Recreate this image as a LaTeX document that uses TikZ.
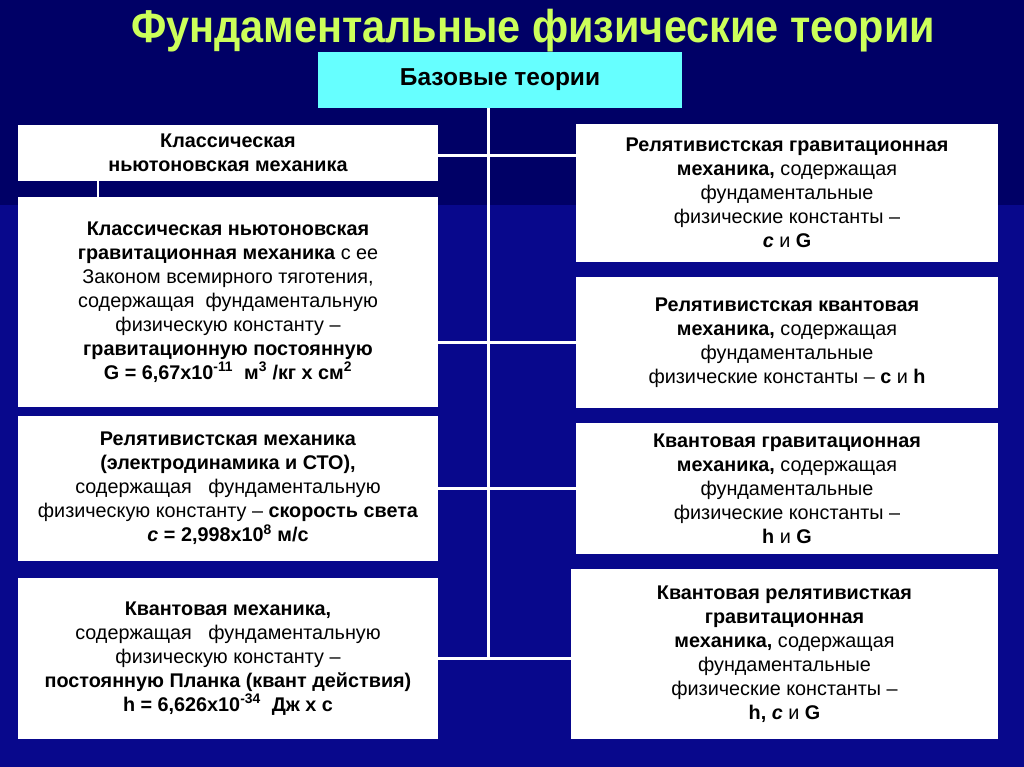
\documentclass[tikz,border=0pt]{standalone}
\usepackage{fontspec}
\setmainfont{Liberation Sans}
\usetikzlibrary{calc}
\definecolor{bgtop}{RGB}{0,0,102}
\definecolor{bgbot}{RGB}{8,8,140}
\definecolor{titlecol}{RGB}{204,255,90}
\definecolor{cyanbox}{RGB}{102,255,255}
\begin{document}
\begin{tikzpicture}[x=1pt,y=-1pt,
  box/.style={fill=white, draw=none, inner sep=0pt, align=center,
    font=\fontsize{19.8}{24}\selectfont, text=black},
  link/.style={draw=white, line width=3pt}]
\fill[bgbot] (0,0) rectangle (1024,767);
\fill[bgtop] (0,0) rectangle (1024,205);
\useasboundingbox (0,0) rectangle (1024,767);

\node[font=\fontsize{46}{54}\selectfont\bfseries, text=titlecol, xscale=0.9] (title) at (533,31) {Фундаментальные физические теории};

\node[fill=cyanbox, inner sep=0pt, minimum width=364pt, minimum height=56pt,
  font=\fontsize{24.5}{28}\selectfont\bfseries] (T) at (500,80) {Базовые теории};

\node[box, minimum width=420pt, minimum height=56pt] (L1) at (228,153)
 {\textbf{Классическая}\\\textbf{ньютоновская механика}};
\node[box, minimum width=420pt, minimum height=210pt] (L2) at (228,302)
 {\textbf{Классическая ньютоновская}\\
  \textbf{гравитационная механика} с ее\\
  Законом всемирного тяготения,\\
  содержащая\ \ фундаментальную\\
  физическую константу –\\
  \textbf{гравитационную постоянную}\\
  \textbf{G = 6,67x10\textsuperscript{-11}\ \ м\textsuperscript{3} /кг х см\textsuperscript{2}}};
\node[box, minimum width=420pt, minimum height=145pt] (L3) at (228,488.5)
 {\textbf{Релятивистская механика}\\
  \textbf{(электродинамика и СТО),}\\
  содержащая\ \ \ фундаментальную\\
  физическую константу – \textbf{скорость света}\\
  \textbf{\textit{c} = 2,998x10\textsuperscript{8} м/с}};
\node[box, minimum width=420pt, minimum height=161pt] (L4) at (228,658.5)
 {\textbf{Квантовая механика,}\\
  содержащая\ \ \ фундаментальную\\
  физическую константу –\\
  \textbf{постоянную Планка (квант действия)}\\
  \textbf{h = 6,626x10\textsuperscript{-34}\ \ Дж х с}};

\node[box, minimum width=422pt, minimum height=138pt] (R1) at (787,193)
 {\textbf{Релятивистская гравитационная}\\
  \textbf{механика,} содержащая\\
  фундаментальные\\
  физические константы –\\
  \textbf{\textit{c}} и \textbf{G}};
\node[box, minimum width=422pt, minimum height=131pt] (R2) at (787,342.5)
 {\textbf{Релятивистская квантовая}\\
  \textbf{механика,} содержащая\\
  фундаментальные\\
  физические константы – \textbf{c} и \textbf{h}};
\node[box, minimum width=422pt, minimum height=131pt] (R3) at (787,488.5)
 {\textbf{Квантовая гравитационная}\\
  \textbf{механика,} содержащая\\
  фундаментальные\\
  физические константы –\\
  \textbf{h} и \textbf{G}};
\node[box, minimum width=427pt, minimum height=170pt] (R4) at (784.5,654)
 {\textbf{Квантовая релятивисткая}\\
  \textbf{гравитационная}\\
  \textbf{механика,} содержащая\\
  фундаментальные\\
  физические константы –\\
  \textbf{h, \textit{c}} и \textbf{G}};

\coordinate (j1) at (488,156);
\coordinate (j2) at (488,342);
\coordinate (j3) at (488,488);
\coordinate (j4) at (488,658);
\coordinate (k) at (98,0);

\draw[link] (T.south -| j4) -- (j4);
\draw[link] (j1 -| L1.east) -- (j1 -| R1.west);
\draw[link] (j2 -| L2.east) -- (j2 -| R2.west);
\draw[link] (j3 -| L3.east) -- (j3 -| R3.west);
\draw[link] (j4 -| L4.east) -- (j4 -| R4.west);
\draw[link, line width=2.5pt] (L1.south -| k) -- (L2.north -| k);
\end{tikzpicture}
\end{document}
